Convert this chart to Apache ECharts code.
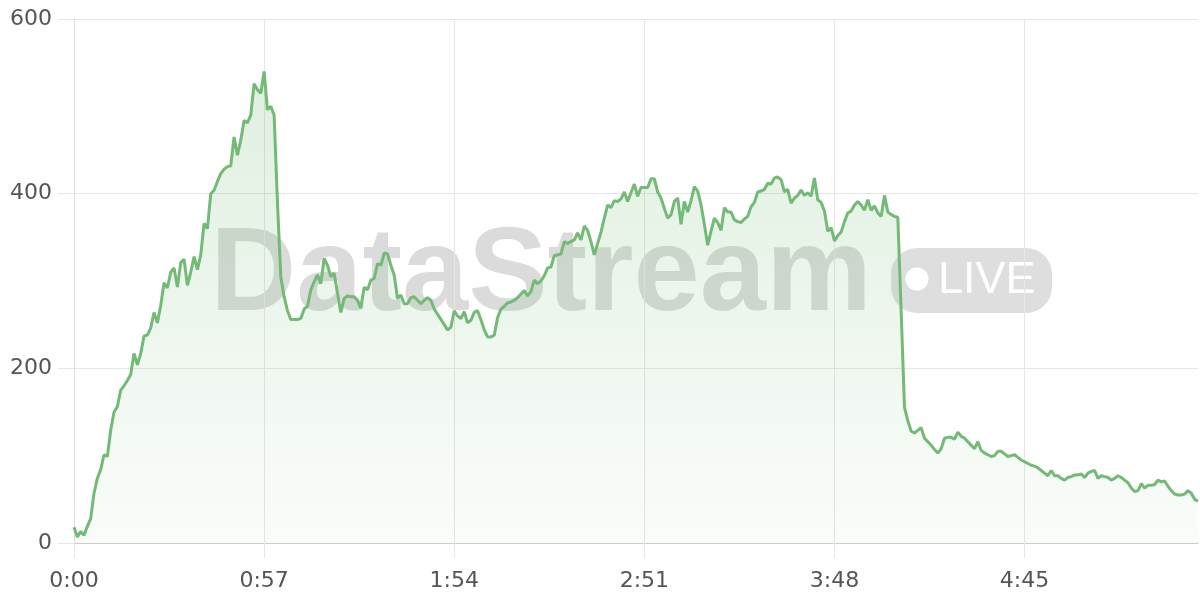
<!DOCTYPE html>
<html>
<head>
<meta charset="utf-8">
<script src="https://cdn.jsdelivr.net/npm/echarts@6/dist/echarts.min.js"></script>
<style>
html,body{margin:0;padding:0;background:#fff;}
#chart{width:1200px;height:600px;}
</style>
</head>
<body>
<div id="chart"></div>
<script>
// values, one per second (t = 0 .. 337 s)
const values = [
  18, 7, 13, 9, 19, 28, 57, 74, 84, 101,
  99, 129, 150, 156, 175, 180, 186, 193, 217, 204,
  217, 237, 238, 246, 264, 252, 272, 298, 292, 310,
  315, 293, 321, 325, 295, 310, 328, 313, 330, 366,
  360, 400, 404, 414, 423, 428, 431, 432, 465, 444,
  461, 484, 481, 490, 526, 519, 515, 540, 496, 500,
  490, 390, 305, 282, 266, 256, 256, 256, 257, 268,
  271, 290, 299, 307, 297, 326, 318, 305, 309, 286,
  264, 280, 283, 282, 282, 278, 269, 293, 290, 301,
  303, 320, 318, 332, 331, 318, 307, 280, 284, 274,
  274, 281, 282, 278, 274, 278, 281, 278, 268, 262,
  256, 250, 244, 247, 266, 260, 257, 265, 252, 255,
  264, 266, 256, 244, 236, 236, 238, 258, 268, 271,
  275, 276, 278, 281, 285, 289, 283, 288, 301, 297,
  300, 306, 315, 316, 329, 330, 331, 345, 343, 345,
  347, 355, 347, 363, 358, 345, 330, 343, 356, 372,
  387, 384, 392, 391, 394, 402, 391, 401, 411, 397,
  407, 407, 407, 417, 417, 402, 395, 383, 372, 376,
  391, 395, 365, 391, 379, 392, 408, 403, 387, 365,
  341, 357, 372, 367, 358, 384, 379, 379, 370, 368,
  367, 371, 374, 385, 390, 402, 403, 405, 412, 411,
  418, 419, 416, 402, 405, 389, 395, 398, 404, 398,
  401, 397, 418, 393, 390, 380, 357, 361, 346, 352,
  356, 368, 378, 380, 387, 391, 387, 381, 393, 381,
  386, 378, 374, 398, 379, 376, 374, 373, 265, 155,
  140, 128, 126, 129, 132, 120, 116, 112, 107, 103,
  108, 120, 121, 121, 119, 127, 122, 120, 116, 112,
  108, 116, 106, 103, 101, 99, 100, 105, 105, 102,
  99, 100, 101, 98, 95, 93, 91, 89, 88, 86,
  83, 80, 77, 83, 77, 77, 74, 72, 75, 76,
  78, 78, 79, 75, 80, 82, 83, 74, 77, 76,
  75, 72, 74, 77, 75, 72, 69, 63, 59, 60,
  68, 63, 66, 66, 67, 72, 70, 71, 65, 60,
  56, 55, 55, 56, 60, 57, 50, 48
];
// category labels: elapsed time m:ss for each sample
const categories = values.map((v, i) => Math.floor(i / 60) + ':' + String(i % 60).padStart(2, '0'));
const labelEvery = 57; // seconds between x labels (0:00, 0:57, 1:54, ...)
const yTicks = [0, 200, 400, 600];
const watermarkText = 'DataStream';
const badgeText = 'LIVE';

const chart = echarts.init(document.getElementById('chart'), null, {renderer: 'canvas'});
const labelFont = 'DejaVu Sans';
chart.setOption({
  animation: false,
  backgroundColor: '#fff',
  grid: {left: 74, right: 2, top: 19, bottom: 57, containLabel: false},
  graphic: {
    z: -1,
    elements: [
      {type: 'text', x: 541, y: 277, z: -1,
        style: {text: watermarkText, font: 'bold 119px "Liberation Sans", Arial, sans-serif',
          fill: 'rgba(0,0,0,0.14)', textAlign: 'center', textVerticalAlign: 'middle'}},
      {type: 'rect', z: -1, shape: {x: 891, y: 248, width: 161, height: 65, r: 26},
        style: {fill: 'rgba(0,0,0,0.13)'}},
      {type: 'circle', z: -1, shape: {cx: 917, cy: 279, r: 11.5}, style: {fill: '#fff'}},
      {type: 'text', x: 938, y: 281, z: -1,
        style: {text: badgeText, font: '45px "Liberation Sans", Arial, sans-serif',
          fill: '#fff', textAlign: 'left', textVerticalAlign: 'middle'}}
    ]
  },
  xAxis: {
    type: 'category',
    data: categories,
    boundaryGap: false,
    axisLine: {show: true, lineStyle: {color: '#cccccc', width: 1}},
    axisTick: {show: true, interval: labelEvery - 1, length: 15, lineStyle: {color: '#e6e6e6'}},
    axisLabel: {interval: labelEvery - 1, margin: 27, fontSize: 22, color: '#555', fontFamily: labelFont},
    splitLine: {show: true, interval: labelEvery - 1, lineStyle: {color: '#e6e6e6', width: 1}}
  },
  yAxis: {
    type: 'value',
    min: yTicks[0],
    max: yTicks[yTicks.length - 1],
    interval: yTicks[1] - yTicks[0],
    axisLine: {show: true, lineStyle: {color: '#dddddd'}},
    axisTick: {show: true, length: 16, lineStyle: {color: '#e6e6e6'}},
    axisLabel: {margin: 22, fontSize: 22, color: '#555', fontFamily: labelFont, padding: [5, 0, 0, 0]},
    splitLine: {show: true, lineStyle: {color: '#e6e6e6', width: 1}}
  },
  series: [{
    type: 'line',
    data: values,
    showSymbol: false,
    smooth: false,
    z: 10,
    lineStyle: {color: '#72ba75', width: 3},
    itemStyle: {color: '#72ba75'},
    areaStyle: {
      color: new echarts.graphic.LinearGradient(0, 0, 0, 1, [
        {offset: 0, color: 'rgba(114,186,117,0.32)'},
        {offset: 1, color: 'rgba(114,186,117,0.05)'}
      ])
    }
  }]
});
</script>
</body>
</html>
